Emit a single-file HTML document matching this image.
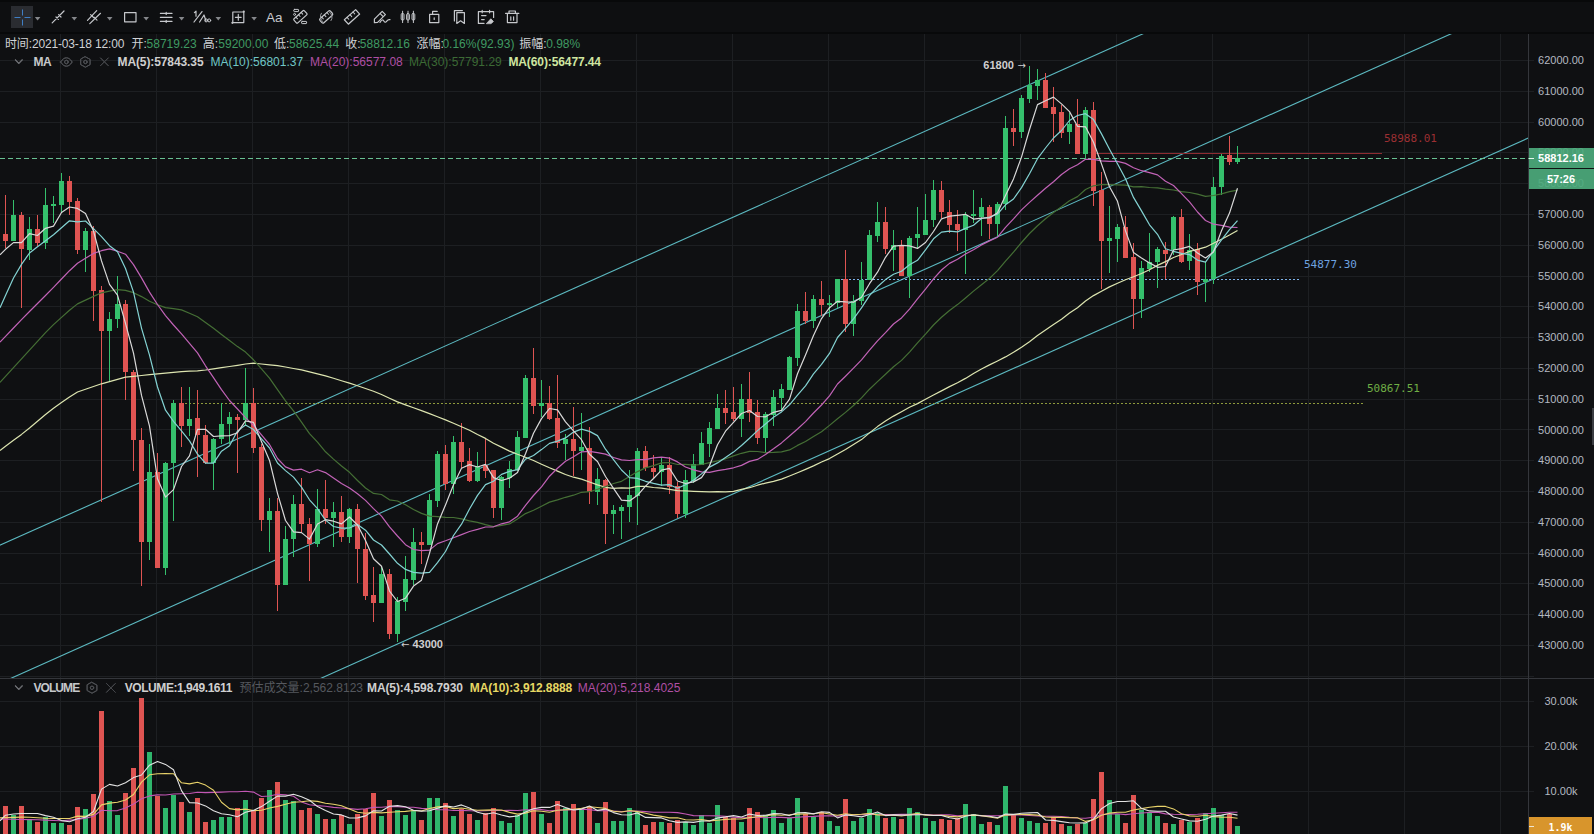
<!DOCTYPE html>
<html lang="zh"><head><meta charset="utf-8"><title>BTC/USDT</title>
<style>
html,body{margin:0;padding:0;background:#0f1012;}
body{width:1594px;height:834px;position:relative;overflow:hidden;font-family:"Liberation Sans","Noto Sans CJK SC",sans-serif;color:#c9ccd1;}
#tb{position:absolute;left:0;top:0;width:1594px;height:32px;background:#0e0f11;border-bottom:2px solid #08090a;}
#tb .topline{position:absolute;left:0;top:0;width:1594px;height:2px;background:#08090a;}
.ax{position:absolute;left:1528px;width:66px;text-align:center;font-size:11px;line-height:14px;color:#b4b9c1;}
.t{position:absolute;white-space:nowrap;font-size:12px;line-height:14px;}
.mono{font-family:"DejaVu Sans Mono","Liberation Mono",monospace;font-size:11px;line-height:13px;position:absolute;white-space:nowrap;}
.arr{font-family:'DejaVu Sans',sans-serif;font-size:10px;color:#cfcfcf;line-height:14px}
.g{color:#3f9a62}
.w{color:#d4d4d4}
</style></head><body>
<svg width="1594" height="834" viewBox="0 0 1594 834" style="position:absolute;left:0;top:0">
<g stroke="#1d1f22" stroke-width="1" shape-rendering="crispEdges">
<line x1="60.5" y1="34" x2="60.5" y2="834"/>
<line x1="156.5" y1="34" x2="156.5" y2="834"/>
<line x1="252.5" y1="34" x2="252.5" y2="834"/>
<line x1="348.5" y1="34" x2="348.5" y2="834"/>
<line x1="444.5" y1="34" x2="444.5" y2="834"/>
<line x1="540.5" y1="34" x2="540.5" y2="834"/>
<line x1="636.5" y1="34" x2="636.5" y2="834"/>
<line x1="732.5" y1="34" x2="732.5" y2="834"/>
<line x1="828.5" y1="34" x2="828.5" y2="834"/>
<line x1="924.5" y1="34" x2="924.5" y2="834"/>
<line x1="1020.5" y1="34" x2="1020.5" y2="834"/>
<line x1="1116.5" y1="34" x2="1116.5" y2="834"/>
<line x1="1212.5" y1="34" x2="1212.5" y2="834"/>
<line x1="1308.5" y1="34" x2="1308.5" y2="834"/>
<line x1="1404.5" y1="34" x2="1404.5" y2="834"/>
<line x1="1500.5" y1="34" x2="1500.5" y2="834"/>
<line x1="0" y1="676.5" x2="1534" y2="676.5"/>
<line x1="0" y1="645.5" x2="1534" y2="645.5"/>
<line x1="0" y1="614.5" x2="1534" y2="614.5"/>
<line x1="0" y1="583.5" x2="1534" y2="583.5"/>
<line x1="0" y1="553.5" x2="1534" y2="553.5"/>
<line x1="0" y1="522.5" x2="1534" y2="522.5"/>
<line x1="0" y1="491.5" x2="1534" y2="491.5"/>
<line x1="0" y1="460.5" x2="1534" y2="460.5"/>
<line x1="0" y1="429.5" x2="1534" y2="429.5"/>
<line x1="0" y1="399.5" x2="1534" y2="399.5"/>
<line x1="0" y1="368.5" x2="1534" y2="368.5"/>
<line x1="0" y1="337.5" x2="1534" y2="337.5"/>
<line x1="0" y1="306.5" x2="1534" y2="306.5"/>
<line x1="0" y1="276.5" x2="1534" y2="276.5"/>
<line x1="0" y1="245.5" x2="1534" y2="245.5"/>
<line x1="0" y1="214.5" x2="1534" y2="214.5"/>
<line x1="0" y1="183.5" x2="1534" y2="183.5"/>
<line x1="0" y1="152.5" x2="1534" y2="152.5"/>
<line x1="0" y1="122.5" x2="1534" y2="122.5"/>
<line x1="0" y1="91.5" x2="1534" y2="91.5"/>
<line x1="0" y1="60.5" x2="1534" y2="60.5"/>
<line x1="0" y1="701.5" x2="1534" y2="701.5"/>
<line x1="0" y1="746.5" x2="1534" y2="746.5"/>
<line x1="0" y1="791.5" x2="1534" y2="791.5"/>
</g>
<g stroke="#34363b" stroke-width="1" shape-rendering="crispEdges">
<line x1="0" y1="678.5" x2="1594" y2="678.5"/>
<line x1="1528.5" y1="34" x2="1528.5" y2="834"/>
</g>
<defs><clipPath id="cm"><rect x="0" y="34" width="1528" height="644"/></clipPath><clipPath id="cv"><rect x="0" y="679" width="1528" height="155"/></clipPath></defs>
<g clip-path="url(#cm)" stroke="#5cb9c0" stroke-width="1.1" fill="none">
<line x1="-10" y1="549.7" x2="1540" y2="-143.9"/>
<line x1="-10" y1="687.7" x2="1540" y2="-6.0"/>
<line x1="-10" y1="826.4" x2="1540" y2="132.8"/>
</g>
<line x1="181" y1="403.5" x2="1365" y2="403.5" stroke="#8e9a3c" stroke-width="1" stroke-dasharray="2 2"/>
<line x1="837" y1="279.5" x2="1301" y2="279.5" stroke="#7fb2e8" stroke-width="1" stroke-dasharray="2 2"/>
<line x1="1091" y1="153.5" x2="1382" y2="153.5" stroke="#8e2c31" stroke-width="1"/>
<line x1="0" y1="158.5" x2="1534" y2="158.5" stroke="#68c092" stroke-width="1" stroke-dasharray="5 3"/>
<g shape-rendering="crispEdges">
<rect x="5" y="195" width="1" height="53" fill="#df5452"/>
<rect x="3" y="234" width="5" height="7" fill="#df5452"/>
<rect x="13" y="200" width="1" height="41" fill="#35c06c"/>
<rect x="11" y="215" width="5" height="26" fill="#35c06c"/>
<rect x="21" y="212" width="1" height="96" fill="#df5452"/>
<rect x="19" y="215" width="5" height="34" fill="#df5452"/>
<rect x="29" y="217" width="1" height="43" fill="#35c06c"/>
<rect x="27" y="229" width="5" height="21" fill="#35c06c"/>
<rect x="37" y="215" width="1" height="31" fill="#df5452"/>
<rect x="35" y="229" width="5" height="14" fill="#df5452"/>
<rect x="45" y="188" width="1" height="61" fill="#35c06c"/>
<rect x="43" y="205" width="5" height="38" fill="#35c06c"/>
<rect x="53" y="196" width="1" height="27" fill="#35c06c"/>
<rect x="51" y="204" width="5" height="2" fill="#35c06c"/>
<rect x="61" y="173" width="1" height="39" fill="#35c06c"/>
<rect x="59" y="181" width="5" height="24" fill="#35c06c"/>
<rect x="69" y="176" width="1" height="39" fill="#df5452"/>
<rect x="67" y="181" width="5" height="21" fill="#df5452"/>
<rect x="77" y="198" width="1" height="56" fill="#df5452"/>
<rect x="75" y="201" width="5" height="49" fill="#df5452"/>
<rect x="85" y="228" width="1" height="44" fill="#35c06c"/>
<rect x="83" y="231" width="5" height="19" fill="#35c06c"/>
<rect x="93" y="226" width="1" height="95" fill="#df5452"/>
<rect x="91" y="231" width="5" height="60" fill="#df5452"/>
<rect x="101" y="286" width="1" height="216" fill="#df5452"/>
<rect x="99" y="290" width="5" height="41" fill="#df5452"/>
<rect x="109" y="312" width="1" height="70" fill="#35c06c"/>
<rect x="107" y="319" width="5" height="12" fill="#35c06c"/>
<rect x="117" y="276" width="1" height="52" fill="#35c06c"/>
<rect x="115" y="304" width="5" height="15" fill="#35c06c"/>
<rect x="125" y="300" width="1" height="100" fill="#df5452"/>
<rect x="123" y="304" width="5" height="68" fill="#df5452"/>
<rect x="133" y="370" width="1" height="101" fill="#df5452"/>
<rect x="131" y="372" width="5" height="68" fill="#df5452"/>
<rect x="141" y="428" width="1" height="158" fill="#df5452"/>
<rect x="139" y="440" width="5" height="102" fill="#df5452"/>
<rect x="149" y="444" width="1" height="116" fill="#35c06c"/>
<rect x="147" y="472" width="5" height="70" fill="#35c06c"/>
<rect x="157" y="453" width="1" height="115" fill="#df5452"/>
<rect x="155" y="472" width="5" height="96" fill="#df5452"/>
<rect x="165" y="462" width="1" height="113" fill="#35c06c"/>
<rect x="163" y="463" width="5" height="105" fill="#35c06c"/>
<rect x="173" y="400" width="1" height="121" fill="#35c06c"/>
<rect x="171" y="403" width="5" height="60" fill="#35c06c"/>
<rect x="181" y="387" width="1" height="60" fill="#df5452"/>
<rect x="179" y="403" width="5" height="23" fill="#df5452"/>
<rect x="189" y="387" width="1" height="49" fill="#35c06c"/>
<rect x="187" y="419" width="5" height="7" fill="#35c06c"/>
<rect x="197" y="390" width="1" height="87" fill="#df5452"/>
<rect x="195" y="418" width="5" height="17" fill="#df5452"/>
<rect x="205" y="425" width="1" height="39" fill="#df5452"/>
<rect x="203" y="435" width="5" height="28" fill="#df5452"/>
<rect x="213" y="438" width="1" height="52" fill="#35c06c"/>
<rect x="211" y="439" width="5" height="24" fill="#35c06c"/>
<rect x="221" y="403" width="1" height="41" fill="#35c06c"/>
<rect x="219" y="424" width="5" height="15" fill="#35c06c"/>
<rect x="229" y="412" width="1" height="32" fill="#35c06c"/>
<rect x="227" y="417" width="5" height="7" fill="#35c06c"/>
<rect x="237" y="414" width="1" height="59" fill="#df5452"/>
<rect x="235" y="417" width="5" height="3" fill="#df5452"/>
<rect x="245" y="368" width="1" height="58" fill="#35c06c"/>
<rect x="243" y="403" width="5" height="17" fill="#35c06c"/>
<rect x="253" y="388" width="1" height="65" fill="#df5452"/>
<rect x="251" y="403" width="5" height="45" fill="#df5452"/>
<rect x="261" y="444" width="1" height="87" fill="#df5452"/>
<rect x="259" y="447" width="5" height="73" fill="#df5452"/>
<rect x="269" y="498" width="1" height="54" fill="#35c06c"/>
<rect x="267" y="511" width="5" height="9" fill="#35c06c"/>
<rect x="277" y="498" width="1" height="113" fill="#df5452"/>
<rect x="275" y="511" width="5" height="74" fill="#df5452"/>
<rect x="285" y="526" width="1" height="59" fill="#35c06c"/>
<rect x="283" y="539" width="5" height="46" fill="#35c06c"/>
<rect x="293" y="495" width="1" height="62" fill="#35c06c"/>
<rect x="291" y="504" width="5" height="35" fill="#35c06c"/>
<rect x="301" y="478" width="1" height="54" fill="#df5452"/>
<rect x="299" y="504" width="5" height="20" fill="#df5452"/>
<rect x="309" y="518" width="1" height="63" fill="#df5452"/>
<rect x="307" y="524" width="5" height="20" fill="#df5452"/>
<rect x="317" y="489" width="1" height="58" fill="#35c06c"/>
<rect x="315" y="509" width="5" height="35" fill="#35c06c"/>
<rect x="325" y="480" width="1" height="44" fill="#df5452"/>
<rect x="323" y="509" width="5" height="9" fill="#df5452"/>
<rect x="333" y="502" width="1" height="45" fill="#35c06c"/>
<rect x="331" y="512" width="5" height="6" fill="#35c06c"/>
<rect x="341" y="496" width="1" height="46" fill="#df5452"/>
<rect x="339" y="512" width="5" height="25" fill="#df5452"/>
<rect x="349" y="508" width="1" height="35" fill="#35c06c"/>
<rect x="347" y="509" width="5" height="28" fill="#35c06c"/>
<rect x="357" y="504" width="1" height="79" fill="#df5452"/>
<rect x="355" y="509" width="5" height="40" fill="#df5452"/>
<rect x="365" y="533" width="1" height="67" fill="#df5452"/>
<rect x="363" y="549" width="5" height="47" fill="#df5452"/>
<rect x="373" y="567" width="1" height="55" fill="#df5452"/>
<rect x="371" y="595" width="5" height="8" fill="#df5452"/>
<rect x="381" y="567" width="1" height="36" fill="#35c06c"/>
<rect x="379" y="574" width="5" height="29" fill="#35c06c"/>
<rect x="389" y="569" width="1" height="70" fill="#df5452"/>
<rect x="387" y="574" width="5" height="60" fill="#df5452"/>
<rect x="397" y="597" width="1" height="45" fill="#35c06c"/>
<rect x="395" y="601" width="5" height="33" fill="#35c06c"/>
<rect x="405" y="556" width="1" height="55" fill="#35c06c"/>
<rect x="403" y="579" width="5" height="23" fill="#35c06c"/>
<rect x="413" y="528" width="1" height="57" fill="#35c06c"/>
<rect x="411" y="542" width="5" height="38" fill="#35c06c"/>
<rect x="421" y="532" width="1" height="32" fill="#df5452"/>
<rect x="419" y="542" width="5" height="3" fill="#df5452"/>
<rect x="429" y="494" width="1" height="51" fill="#35c06c"/>
<rect x="427" y="500" width="5" height="45" fill="#35c06c"/>
<rect x="437" y="451" width="1" height="56" fill="#35c06c"/>
<rect x="435" y="454" width="5" height="47" fill="#35c06c"/>
<rect x="445" y="445" width="1" height="45" fill="#df5452"/>
<rect x="443" y="454" width="5" height="30" fill="#df5452"/>
<rect x="453" y="436" width="1" height="58" fill="#35c06c"/>
<rect x="451" y="442" width="5" height="42" fill="#35c06c"/>
<rect x="461" y="423" width="1" height="45" fill="#df5452"/>
<rect x="459" y="442" width="5" height="20" fill="#df5452"/>
<rect x="469" y="448" width="1" height="34" fill="#df5452"/>
<rect x="467" y="461" width="5" height="20" fill="#df5452"/>
<rect x="477" y="452" width="1" height="30" fill="#35c06c"/>
<rect x="475" y="466" width="5" height="15" fill="#35c06c"/>
<rect x="485" y="439" width="1" height="39" fill="#df5452"/>
<rect x="483" y="465" width="5" height="6" fill="#df5452"/>
<rect x="493" y="470" width="1" height="48" fill="#df5452"/>
<rect x="491" y="470" width="5" height="38" fill="#df5452"/>
<rect x="501" y="476" width="1" height="44" fill="#35c06c"/>
<rect x="499" y="477" width="5" height="31" fill="#35c06c"/>
<rect x="509" y="461" width="1" height="27" fill="#35c06c"/>
<rect x="507" y="469" width="5" height="9" fill="#35c06c"/>
<rect x="517" y="431" width="1" height="40" fill="#35c06c"/>
<rect x="515" y="437" width="5" height="33" fill="#35c06c"/>
<rect x="525" y="375" width="1" height="63" fill="#35c06c"/>
<rect x="523" y="378" width="5" height="60" fill="#35c06c"/>
<rect x="533" y="348" width="1" height="66" fill="#df5452"/>
<rect x="531" y="378" width="5" height="28" fill="#df5452"/>
<rect x="541" y="380" width="1" height="37" fill="#35c06c"/>
<rect x="539" y="403" width="5" height="3" fill="#35c06c"/>
<rect x="549" y="386" width="1" height="34" fill="#df5452"/>
<rect x="547" y="403" width="5" height="16" fill="#df5452"/>
<rect x="557" y="375" width="1" height="73" fill="#df5452"/>
<rect x="555" y="418" width="5" height="25" fill="#df5452"/>
<rect x="565" y="434" width="1" height="26" fill="#35c06c"/>
<rect x="563" y="439" width="5" height="5" fill="#35c06c"/>
<rect x="573" y="407" width="1" height="69" fill="#df5452"/>
<rect x="571" y="439" width="5" height="12" fill="#df5452"/>
<rect x="581" y="413" width="1" height="57" fill="#35c06c"/>
<rect x="579" y="447" width="5" height="4" fill="#35c06c"/>
<rect x="589" y="427" width="1" height="77" fill="#df5452"/>
<rect x="587" y="448" width="5" height="44" fill="#df5452"/>
<rect x="597" y="468" width="1" height="37" fill="#35c06c"/>
<rect x="595" y="479" width="5" height="13" fill="#35c06c"/>
<rect x="605" y="479" width="1" height="65" fill="#df5452"/>
<rect x="603" y="480" width="5" height="34" fill="#df5452"/>
<rect x="613" y="505" width="1" height="29" fill="#35c06c"/>
<rect x="611" y="510" width="5" height="4" fill="#35c06c"/>
<rect x="621" y="505" width="1" height="34" fill="#35c06c"/>
<rect x="619" y="507" width="5" height="4" fill="#35c06c"/>
<rect x="629" y="470" width="1" height="52" fill="#35c06c"/>
<rect x="627" y="495" width="5" height="12" fill="#35c06c"/>
<rect x="637" y="448" width="1" height="77" fill="#35c06c"/>
<rect x="635" y="451" width="5" height="45" fill="#35c06c"/>
<rect x="645" y="446" width="1" height="25" fill="#df5452"/>
<rect x="643" y="451" width="5" height="17" fill="#df5452"/>
<rect x="653" y="455" width="1" height="23" fill="#df5452"/>
<rect x="651" y="468" width="5" height="4" fill="#df5452"/>
<rect x="661" y="457" width="1" height="29" fill="#35c06c"/>
<rect x="659" y="465" width="5" height="7" fill="#35c06c"/>
<rect x="669" y="457" width="1" height="37" fill="#df5452"/>
<rect x="667" y="465" width="5" height="22" fill="#df5452"/>
<rect x="677" y="482" width="1" height="36" fill="#df5452"/>
<rect x="675" y="486" width="5" height="28" fill="#df5452"/>
<rect x="685" y="470" width="1" height="48" fill="#35c06c"/>
<rect x="683" y="480" width="5" height="34" fill="#35c06c"/>
<rect x="693" y="454" width="1" height="29" fill="#35c06c"/>
<rect x="691" y="464" width="5" height="17" fill="#35c06c"/>
<rect x="701" y="432" width="1" height="33" fill="#35c06c"/>
<rect x="699" y="443" width="5" height="22" fill="#35c06c"/>
<rect x="709" y="422" width="1" height="35" fill="#35c06c"/>
<rect x="707" y="428" width="5" height="16" fill="#35c06c"/>
<rect x="717" y="394" width="1" height="35" fill="#35c06c"/>
<rect x="715" y="408" width="5" height="21" fill="#35c06c"/>
<rect x="725" y="390" width="1" height="34" fill="#df5452"/>
<rect x="723" y="408" width="5" height="5" fill="#df5452"/>
<rect x="733" y="387" width="1" height="34" fill="#df5452"/>
<rect x="731" y="412" width="5" height="7" fill="#df5452"/>
<rect x="741" y="384" width="1" height="53" fill="#35c06c"/>
<rect x="739" y="399" width="5" height="20" fill="#35c06c"/>
<rect x="749" y="372" width="1" height="50" fill="#df5452"/>
<rect x="747" y="399" width="5" height="14" fill="#df5452"/>
<rect x="757" y="400" width="1" height="44" fill="#df5452"/>
<rect x="755" y="412" width="5" height="26" fill="#df5452"/>
<rect x="765" y="412" width="1" height="40" fill="#35c06c"/>
<rect x="763" y="414" width="5" height="24" fill="#35c06c"/>
<rect x="773" y="390" width="1" height="36" fill="#35c06c"/>
<rect x="771" y="397" width="5" height="18" fill="#35c06c"/>
<rect x="781" y="384" width="1" height="26" fill="#35c06c"/>
<rect x="779" y="389" width="5" height="9" fill="#35c06c"/>
<rect x="789" y="356" width="1" height="34" fill="#35c06c"/>
<rect x="787" y="357" width="5" height="33" fill="#35c06c"/>
<rect x="797" y="304" width="1" height="62" fill="#35c06c"/>
<rect x="795" y="311" width="5" height="47" fill="#35c06c"/>
<rect x="805" y="292" width="1" height="32" fill="#df5452"/>
<rect x="803" y="311" width="5" height="10" fill="#df5452"/>
<rect x="813" y="295" width="1" height="33" fill="#35c06c"/>
<rect x="811" y="299" width="5" height="22" fill="#35c06c"/>
<rect x="821" y="281" width="1" height="35" fill="#df5452"/>
<rect x="819" y="299" width="5" height="6" fill="#df5452"/>
<rect x="829" y="295" width="1" height="22" fill="#35c06c"/>
<rect x="827" y="303" width="5" height="2" fill="#35c06c"/>
<rect x="837" y="279" width="1" height="29" fill="#35c06c"/>
<rect x="835" y="279" width="5" height="24" fill="#35c06c"/>
<rect x="845" y="250" width="1" height="82" fill="#df5452"/>
<rect x="843" y="279" width="5" height="45" fill="#df5452"/>
<rect x="853" y="295" width="1" height="41" fill="#35c06c"/>
<rect x="851" y="301" width="5" height="23" fill="#35c06c"/>
<rect x="861" y="262" width="1" height="43" fill="#35c06c"/>
<rect x="859" y="280" width="5" height="21" fill="#35c06c"/>
<rect x="869" y="230" width="1" height="50" fill="#35c06c"/>
<rect x="867" y="235" width="5" height="45" fill="#35c06c"/>
<rect x="877" y="202" width="1" height="40" fill="#35c06c"/>
<rect x="875" y="222" width="5" height="14" fill="#35c06c"/>
<rect x="885" y="207" width="1" height="47" fill="#df5452"/>
<rect x="883" y="222" width="5" height="27" fill="#df5452"/>
<rect x="893" y="230" width="1" height="41" fill="#35c06c"/>
<rect x="891" y="245" width="5" height="5" fill="#35c06c"/>
<rect x="901" y="240" width="1" height="36" fill="#df5452"/>
<rect x="899" y="245" width="5" height="31" fill="#df5452"/>
<rect x="909" y="236" width="1" height="62" fill="#35c06c"/>
<rect x="907" y="238" width="5" height="38" fill="#35c06c"/>
<rect x="917" y="207" width="1" height="41" fill="#35c06c"/>
<rect x="915" y="234" width="5" height="4" fill="#35c06c"/>
<rect x="925" y="194" width="1" height="41" fill="#35c06c"/>
<rect x="923" y="220" width="5" height="15" fill="#35c06c"/>
<rect x="933" y="180" width="1" height="47" fill="#35c06c"/>
<rect x="931" y="190" width="5" height="30" fill="#35c06c"/>
<rect x="941" y="181" width="1" height="37" fill="#df5452"/>
<rect x="939" y="190" width="5" height="22" fill="#df5452"/>
<rect x="949" y="200" width="1" height="33" fill="#df5452"/>
<rect x="947" y="212" width="5" height="13" fill="#df5452"/>
<rect x="957" y="210" width="1" height="41" fill="#df5452"/>
<rect x="955" y="224" width="5" height="6" fill="#df5452"/>
<rect x="965" y="212" width="1" height="62" fill="#35c06c"/>
<rect x="963" y="215" width="5" height="15" fill="#35c06c"/>
<rect x="973" y="190" width="1" height="33" fill="#35c06c"/>
<rect x="971" y="214" width="5" height="2" fill="#35c06c"/>
<rect x="981" y="198" width="1" height="38" fill="#35c06c"/>
<rect x="979" y="207" width="5" height="10" fill="#35c06c"/>
<rect x="989" y="205" width="1" height="34" fill="#df5452"/>
<rect x="987" y="207" width="5" height="17" fill="#df5452"/>
<rect x="997" y="202" width="1" height="34" fill="#35c06c"/>
<rect x="995" y="204" width="5" height="20" fill="#35c06c"/>
<rect x="1005" y="116" width="1" height="94" fill="#35c06c"/>
<rect x="1003" y="128" width="5" height="76" fill="#35c06c"/>
<rect x="1013" y="109" width="1" height="37" fill="#df5452"/>
<rect x="1011" y="128" width="5" height="4" fill="#df5452"/>
<rect x="1021" y="95" width="1" height="43" fill="#35c06c"/>
<rect x="1019" y="98" width="5" height="34" fill="#35c06c"/>
<rect x="1029" y="66" width="1" height="37" fill="#35c06c"/>
<rect x="1027" y="85" width="5" height="14" fill="#35c06c"/>
<rect x="1037" y="69" width="1" height="31" fill="#35c06c"/>
<rect x="1035" y="80" width="5" height="6" fill="#35c06c"/>
<rect x="1045" y="73" width="1" height="35" fill="#df5452"/>
<rect x="1043" y="80" width="5" height="28" fill="#df5452"/>
<rect x="1053" y="87" width="1" height="55" fill="#df5452"/>
<rect x="1051" y="107" width="5" height="7" fill="#df5452"/>
<rect x="1061" y="105" width="1" height="33" fill="#df5452"/>
<rect x="1059" y="112" width="5" height="21" fill="#df5452"/>
<rect x="1069" y="113" width="1" height="31" fill="#35c06c"/>
<rect x="1067" y="124" width="5" height="8" fill="#35c06c"/>
<rect x="1077" y="99" width="1" height="55" fill="#df5452"/>
<rect x="1075" y="124" width="5" height="30" fill="#df5452"/>
<rect x="1085" y="107" width="1" height="52" fill="#35c06c"/>
<rect x="1083" y="110" width="5" height="44" fill="#35c06c"/>
<rect x="1093" y="102" width="1" height="104" fill="#df5452"/>
<rect x="1091" y="110" width="5" height="81" fill="#df5452"/>
<rect x="1101" y="172" width="1" height="117" fill="#df5452"/>
<rect x="1099" y="190" width="5" height="51" fill="#df5452"/>
<rect x="1109" y="206" width="1" height="67" fill="#35c06c"/>
<rect x="1107" y="238" width="5" height="3" fill="#35c06c"/>
<rect x="1117" y="224" width="1" height="38" fill="#35c06c"/>
<rect x="1115" y="227" width="5" height="12" fill="#35c06c"/>
<rect x="1125" y="216" width="1" height="42" fill="#df5452"/>
<rect x="1123" y="227" width="5" height="31" fill="#df5452"/>
<rect x="1133" y="243" width="1" height="86" fill="#df5452"/>
<rect x="1131" y="257" width="5" height="42" fill="#df5452"/>
<rect x="1141" y="261" width="1" height="57" fill="#35c06c"/>
<rect x="1139" y="268" width="5" height="31" fill="#35c06c"/>
<rect x="1149" y="233" width="1" height="39" fill="#35c06c"/>
<rect x="1147" y="262" width="5" height="7" fill="#35c06c"/>
<rect x="1157" y="247" width="1" height="41" fill="#35c06c"/>
<rect x="1155" y="249" width="5" height="13" fill="#35c06c"/>
<rect x="1165" y="242" width="1" height="37" fill="#df5452"/>
<rect x="1163" y="250" width="5" height="4" fill="#df5452"/>
<rect x="1173" y="216" width="1" height="39" fill="#35c06c"/>
<rect x="1171" y="217" width="5" height="33" fill="#35c06c"/>
<rect x="1181" y="209" width="1" height="54" fill="#df5452"/>
<rect x="1179" y="217" width="5" height="45" fill="#df5452"/>
<rect x="1189" y="234" width="1" height="36" fill="#35c06c"/>
<rect x="1187" y="250" width="5" height="11" fill="#35c06c"/>
<rect x="1197" y="243" width="1" height="52" fill="#df5452"/>
<rect x="1195" y="249" width="5" height="33" fill="#df5452"/>
<rect x="1205" y="262" width="1" height="40" fill="#35c06c"/>
<rect x="1203" y="279" width="5" height="3" fill="#35c06c"/>
<rect x="1213" y="177" width="1" height="107" fill="#35c06c"/>
<rect x="1211" y="187" width="5" height="92" fill="#35c06c"/>
<rect x="1221" y="154" width="1" height="41" fill="#35c06c"/>
<rect x="1219" y="156" width="5" height="31" fill="#35c06c"/>
<rect x="1229" y="136" width="1" height="29" fill="#df5452"/>
<rect x="1227" y="155" width="5" height="7" fill="#df5452"/>
<rect x="1237" y="146" width="1" height="18" fill="#35c06c"/>
<rect x="1235" y="158" width="5" height="4" fill="#35c06c"/>
</g>
<g clip-path="url(#cm)" fill="none" stroke-width="1.2" stroke-linejoin="round">
<polyline stroke="#dde5b0" points="0.0,450.4 5.5,446.3 13.5,440.3 21.5,434.4 29.5,428.0 37.5,421.3 45.5,414.5 53.5,408.2 61.5,402.6 69.5,396.9 77.5,392.0 85.5,389.2 93.5,386.5 101.5,383.8 109.5,381.6 117.5,379.4 125.5,377.1 133.5,376.3 141.5,375.5 149.5,374.7 157.5,373.9 165.5,373.1 173.5,372.3 181.5,371.7 189.5,371.2 197.5,370.8 205.5,370.0 213.5,368.8 221.5,367.7 229.5,366.5 237.5,365.3 245.5,364.0 253.5,363.2 261.5,364.0 269.5,364.8 277.5,365.6 285.5,367.0 293.5,368.5 301.5,369.9 309.5,371.9 317.5,373.9 325.5,375.9 333.5,378.3 341.5,380.7 349.5,383.1 357.5,385.7 365.5,388.5 373.5,391.3 381.5,394.5 389.5,398.2 397.5,401.9 405.5,404.9 413.5,407.8 421.5,410.6 429.5,413.6 437.5,416.7 445.5,419.9 453.5,423.2 461.5,426.8 469.5,430.3 477.5,434.5 485.5,438.4 493.5,443.3 501.5,447.1 509.5,451.1 517.5,454.3 525.5,457.2 533.5,460.5 541.5,464.2 549.5,467.8 557.5,471.1 565.5,474.5 573.5,477.2 581.5,479.1 589.5,482.0 597.5,484.9 605.5,487.3 613.5,488.4 621.5,487.9 629.5,488.2 637.5,486.3 645.5,486.4 653.5,487.5 661.5,488.2 669.5,489.3 677.5,490.6 685.5,490.9 693.5,491.3 701.5,491.6 709.5,491.8 717.5,491.6 725.5,491.8 733.5,491.3 741.5,489.3 749.5,487.7 757.5,485.2 765.5,483.1 773.5,481.3 781.5,479.1 789.5,476.0 797.5,472.7 805.5,469.4 813.5,465.9 821.5,462.0 829.5,458.6 837.5,454.0 845.5,449.5 853.5,444.5 861.5,439.6 869.5,432.9 877.5,426.6 885.5,421.1 893.5,416.1 901.5,411.7 909.5,407.3 917.5,403.6 925.5,399.2 933.5,395.0 941.5,390.9 949.5,386.6 957.5,382.7 965.5,378.4 973.5,373.5 981.5,369.0 989.5,364.9 997.5,361.0 1005.5,356.9 1013.5,352.3 1021.5,347.2 1029.5,341.7 1037.5,335.6 1045.5,330.1 1053.5,324.5 1061.5,319.2 1069.5,313.1 1077.5,307.7 1085.5,301.0 1093.5,295.6 1101.5,291.2 1109.5,286.9 1117.5,283.2 1125.5,279.7 1133.5,276.8 1141.5,273.5 1149.5,269.8 1157.5,265.4 1165.5,261.6 1173.5,257.5 1181.5,254.5 1189.5,251.5 1197.5,249.4 1205.5,247.2 1213.5,243.3 1221.5,239.2 1229.5,235.0 1237.5,230.4"/>
<polyline stroke="#456f35" points="0.0,382.4 5.5,376.4 13.5,367.6 21.5,358.8 29.5,350.1 37.5,341.4 45.5,332.7 53.5,324.6 61.5,317.4 69.5,310.2 77.5,303.9 85.5,300.1 93.5,296.4 101.5,292.8 109.5,291.2 117.5,289.7 125.5,290.4 133.5,292.7 141.5,296.6 149.5,301.3 157.5,304.8 165.5,307.6 173.5,308.7 181.5,309.9 189.5,313.2 197.5,316.8 205.5,322.6 213.5,328.3 221.5,334.4 229.5,340.4 237.5,346.6 245.5,352.1 253.5,359.8 261.5,368.8 269.5,378.2 277.5,389.6 285.5,400.8 293.5,410.8 301.5,422.2 309.5,433.6 317.5,442.2 325.5,451.8 333.5,459.1 341.5,466.0 349.5,472.3 357.5,480.5 365.5,488.0 373.5,493.4 381.5,494.5 389.5,499.8 397.5,501.0 405.5,504.8 413.5,509.5 421.5,513.4 429.5,516.1 437.5,516.7 445.5,517.4 453.5,517.5 461.5,518.8 469.5,520.9 477.5,522.4 485.5,524.7 493.5,526.7 501.5,525.3 509.5,523.9 517.5,519.0 525.5,513.6 533.5,510.3 541.5,506.3 549.5,502.1 557.5,499.9 565.5,497.3 573.5,495.2 581.5,492.3 589.5,491.7 597.5,489.3 605.5,486.6 613.5,483.5 621.5,481.3 629.5,476.6 637.5,471.6 645.5,467.9 653.5,465.6 661.5,462.9 669.5,462.5 677.5,464.5 685.5,464.4 693.5,465.1 701.5,464.5 709.5,462.7 717.5,460.8 725.5,458.8 733.5,455.9 741.5,453.3 749.5,451.4 757.5,451.5 765.5,452.7 773.5,452.4 781.5,451.9 789.5,449.9 797.5,445.4 805.5,441.5 813.5,436.5 821.5,431.7 829.5,425.4 837.5,418.7 845.5,412.4 853.5,405.5 861.5,397.9 869.5,389.2 877.5,381.6 885.5,374.3 893.5,366.7 901.5,360.4 909.5,352.1 917.5,342.8 925.5,334.1 933.5,325.0 941.5,317.3 949.5,310.5 957.5,304.6 965.5,298.0 973.5,291.1 981.5,284.7 989.5,278.4 997.5,270.6 1005.5,261.1 1013.5,252.2 1021.5,242.5 1029.5,233.5 1037.5,225.8 1045.5,218.7 1053.5,212.5 1061.5,206.8 1069.5,200.8 1077.5,196.6 1085.5,189.5 1093.5,185.8 1101.5,184.5 1109.5,184.6 1117.5,184.8 1125.5,185.1 1133.5,186.9 1141.5,186.7 1149.5,187.5 1157.5,187.9 1165.5,189.1 1173.5,190.0 1181.5,191.6 1189.5,192.5 1197.5,194.2 1205.5,196.4 1213.5,195.5 1221.5,193.8 1229.5,191.7 1237.5,190.1"/>
<polyline stroke="#c263b7" points="0.0,342.2 5.5,336.4 13.5,328.0 21.5,319.7 29.5,311.5 37.5,303.5 45.5,295.5 53.5,287.4 61.5,279.0 69.5,270.7 77.5,263.3 85.5,258.3 93.5,253.4 101.5,250.7 109.5,248.9 117.5,251.2 125.5,254.2 133.5,264.6 141.5,277.9 149.5,292.1 157.5,304.5 165.5,315.6 173.5,325.0 181.5,333.8 189.5,343.3 197.5,352.9 205.5,365.8 213.5,377.6 221.5,389.7 229.5,400.5 237.5,409.0 245.5,417.6 253.5,425.4 261.5,434.9 269.5,444.5 277.5,458.5 285.5,466.9 293.5,470.1 301.5,469.2 309.5,472.7 317.5,469.8 325.5,472.6 333.5,478.0 341.5,483.5 349.5,488.0 357.5,493.7 365.5,500.4 373.5,508.6 381.5,516.1 389.5,526.9 397.5,536.0 405.5,544.7 413.5,549.5 421.5,550.7 429.5,550.1 437.5,543.6 445.5,540.8 453.5,537.7 461.5,534.6 469.5,531.5 477.5,529.4 485.5,527.0 493.5,526.8 501.5,523.8 509.5,521.8 517.5,516.2 525.5,505.3 533.5,495.5 541.5,486.9 549.5,476.2 557.5,468.3 565.5,461.2 573.5,456.7 581.5,451.8 589.5,451.4 597.5,452.6 605.5,454.1 613.5,457.5 621.5,459.8 629.5,460.5 637.5,459.7 645.5,459.6 653.5,457.8 661.5,457.2 669.5,458.1 677.5,461.9 685.5,467.0 693.5,469.9 701.5,471.9 709.5,472.4 717.5,470.6 725.5,469.3 733.5,467.8 741.5,465.4 749.5,461.4 757.5,459.4 765.5,454.4 773.5,448.8 781.5,442.9 789.5,436.0 797.5,429.0 805.5,421.6 813.5,413.0 821.5,405.0 829.5,395.8 837.5,384.0 845.5,376.2 853.5,368.1 861.5,359.9 869.5,350.2 877.5,340.9 885.5,332.7 893.5,324.0 901.5,317.9 909.5,309.1 917.5,298.9 925.5,289.2 933.5,278.8 941.5,270.0 949.5,263.4 957.5,259.3 965.5,254.0 973.5,249.7 981.5,244.9 989.5,240.9 997.5,237.2 1005.5,227.4 1013.5,218.9 1021.5,209.9 1029.5,202.4 1037.5,195.3 1045.5,188.2 1053.5,181.7 1061.5,174.5 1069.5,168.8 1077.5,164.8 1085.5,159.3 1093.5,159.3 1101.5,160.8 1109.5,161.4 1117.5,161.3 1125.5,163.4 1133.5,167.7 1141.5,170.7 1149.5,172.7 1157.5,174.9 1165.5,181.2 1173.5,185.5 1181.5,193.6 1189.5,201.9 1197.5,212.0 1205.5,220.5 1213.5,224.2 1221.5,225.4 1229.5,227.2 1237.5,227.5"/>
<polyline stroke="#84d3d3" points="0.0,307.7 5.5,295.6 13.5,278.0 21.5,264.4 29.5,253.0 37.5,246.7 45.5,240.7 53.5,234.8 61.5,227.7 69.5,220.8 77.5,221.9 85.5,221.0 93.5,228.6 101.5,236.7 109.5,245.7 117.5,251.8 125.5,268.5 133.5,292.1 141.5,328.1 149.5,355.2 157.5,387.0 165.5,410.2 173.5,421.4 181.5,430.9 189.5,440.9 197.5,454.1 205.5,463.2 213.5,463.1 221.5,451.2 229.5,445.7 237.5,431.0 245.5,425.0 253.5,429.5 261.5,438.8 269.5,448.0 277.5,463.0 285.5,470.6 293.5,477.1 301.5,487.1 309.5,499.8 317.5,508.6 325.5,520.1 333.5,526.5 341.5,528.2 349.5,528.0 357.5,524.5 365.5,530.2 373.5,540.0 381.5,545.0 389.5,554.0 397.5,563.3 405.5,569.4 413.5,572.4 421.5,573.2 429.5,572.3 437.5,562.7 445.5,551.5 453.5,535.5 461.5,524.2 469.5,509.0 477.5,495.4 485.5,484.6 493.5,481.2 501.5,474.4 509.5,471.4 517.5,469.7 525.5,459.1 533.5,455.5 541.5,449.6 549.5,443.4 557.5,441.1 565.5,437.9 573.5,432.1 581.5,429.1 589.5,431.4 597.5,435.6 605.5,449.2 613.5,459.6 621.5,470.0 629.5,477.6 637.5,478.4 645.5,481.3 653.5,483.4 661.5,485.2 669.5,484.7 677.5,488.2 685.5,484.8 693.5,480.2 701.5,473.9 709.5,467.1 717.5,462.9 725.5,457.4 733.5,452.1 741.5,445.5 749.5,438.2 757.5,430.6 765.5,424.0 773.5,417.3 781.5,411.9 789.5,404.8 797.5,395.1 805.5,385.9 813.5,373.9 821.5,364.4 829.5,353.4 837.5,337.5 845.5,328.4 853.5,318.8 861.5,307.9 869.5,295.7 877.5,286.8 885.5,279.6 893.5,274.2 901.5,271.3 909.5,264.8 917.5,260.3 925.5,249.9 933.5,238.8 941.5,232.1 949.5,231.1 957.5,231.9 965.5,228.4 973.5,225.3 981.5,218.5 989.5,217.0 997.5,214.1 1005.5,204.8 1013.5,199.0 1021.5,187.6 1029.5,173.7 1037.5,158.7 1045.5,148.0 1053.5,138.0 1061.5,130.5 1069.5,120.5 1077.5,115.5 1085.5,113.7 1093.5,119.6 1101.5,133.9 1109.5,149.2 1117.5,163.8 1125.5,178.8 1133.5,197.4 1141.5,210.9 1149.5,224.8 1157.5,234.3 1165.5,248.7 1173.5,251.3 1181.5,253.4 1189.5,254.6 1197.5,260.1 1205.5,262.2 1213.5,251.0 1221.5,239.8 1229.5,229.7 1237.5,220.7"/>
<polyline stroke="#d9d9d9" points="0.0,254.8 5.5,249.3 13.5,242.6 21.5,242.6 29.5,233.7 37.5,235.5 45.5,228.3 53.5,226.1 61.5,212.5 69.5,207.0 77.5,208.4 85.5,213.6 93.5,231.0 101.5,260.9 109.5,284.4 117.5,295.2 125.5,323.3 133.5,353.2 141.5,395.4 149.5,426.1 157.5,478.8 165.5,497.1 173.5,489.6 181.5,466.5 189.5,455.8 197.5,429.3 205.5,429.3 213.5,436.5 221.5,435.9 229.5,435.6 237.5,432.7 245.5,420.8 253.5,422.4 261.5,441.7 269.5,460.4 277.5,493.3 285.5,520.5 293.5,531.8 301.5,532.6 309.5,539.1 317.5,524.0 325.5,519.7 333.5,521.2 341.5,523.9 349.5,517.0 357.5,525.0 365.5,540.6 373.5,558.7 381.5,566.2 389.5,591.1 397.5,601.5 405.5,598.2 413.5,586.1 421.5,580.2 429.5,553.4 437.5,523.9 445.5,504.9 453.5,484.8 461.5,468.3 469.5,464.6 477.5,467.0 485.5,464.4 493.5,477.6 501.5,480.5 509.5,478.2 517.5,472.4 525.5,453.8 533.5,433.3 541.5,418.6 549.5,408.5 557.5,409.8 565.5,421.9 573.5,430.9 581.5,439.7 589.5,454.3 597.5,461.5 605.5,476.5 613.5,488.3 621.5,500.2 629.5,500.9 637.5,495.3 645.5,486.1 653.5,478.5 661.5,470.1 669.5,468.4 677.5,481.0 685.5,483.5 693.5,481.9 701.5,477.6 709.5,465.8 717.5,444.7 725.5,431.2 733.5,422.3 741.5,413.5 749.5,410.5 757.5,416.5 765.5,416.8 773.5,412.3 781.5,410.3 789.5,399.1 797.5,373.7 805.5,355.0 813.5,335.4 821.5,318.6 829.5,307.7 837.5,301.3 845.5,301.9 853.5,302.2 861.5,297.2 869.5,283.7 877.5,272.2 885.5,257.3 893.5,246.1 901.5,245.3 909.5,245.9 917.5,248.4 925.5,242.5 933.5,231.5 941.5,218.9 949.5,216.2 957.5,215.3 965.5,214.3 973.5,219.1 981.5,218.1 989.5,217.9 997.5,212.8 1005.5,195.4 1013.5,178.9 1021.5,157.1 1029.5,129.5 1037.5,104.6 1045.5,100.7 1053.5,97.1 1061.5,103.9 1069.5,111.6 1077.5,126.3 1085.5,126.8 1093.5,142.2 1101.5,163.9 1109.5,186.7 1117.5,201.3 1125.5,230.9 1133.5,252.6 1141.5,258.0 1149.5,262.9 1157.5,267.3 1165.5,266.5 1173.5,250.0 1181.5,248.7 1189.5,246.4 1197.5,253.0 1205.5,257.9 1213.5,252.0 1221.5,230.8 1229.5,213.1 1237.5,188.3"/>
</g>
<g shape-rendering="crispEdges">
<rect x="3" y="806" width="5" height="28" fill="#df5452"/>
<rect x="11" y="815" width="5" height="19" fill="#2fb66c"/>
<rect x="19" y="806" width="5" height="28" fill="#df5452"/>
<rect x="27" y="819" width="5" height="15" fill="#2fb66c"/>
<rect x="35" y="822" width="5" height="12" fill="#df5452"/>
<rect x="43" y="817" width="5" height="17" fill="#2fb66c"/>
<rect x="51" y="823" width="5" height="11" fill="#2fb66c"/>
<rect x="59" y="823" width="5" height="11" fill="#2fb66c"/>
<rect x="67" y="825" width="5" height="9" fill="#df5452"/>
<rect x="75" y="807" width="5" height="27" fill="#df5452"/>
<rect x="83" y="809" width="5" height="25" fill="#2fb66c"/>
<rect x="91" y="794" width="5" height="40" fill="#df5452"/>
<rect x="99" y="711" width="5" height="123" fill="#df5452"/>
<rect x="107" y="801" width="5" height="33" fill="#2fb66c"/>
<rect x="115" y="815" width="5" height="19" fill="#2fb66c"/>
<rect x="123" y="793" width="5" height="41" fill="#df5452"/>
<rect x="131" y="768" width="5" height="66" fill="#df5452"/>
<rect x="139" y="698" width="5" height="136" fill="#df5452"/>
<rect x="147" y="752" width="5" height="82" fill="#2fb66c"/>
<rect x="155" y="796" width="5" height="38" fill="#df5452"/>
<rect x="163" y="808" width="5" height="26" fill="#2fb66c"/>
<rect x="171" y="795" width="5" height="39" fill="#2fb66c"/>
<rect x="179" y="802" width="5" height="32" fill="#df5452"/>
<rect x="187" y="812" width="5" height="22" fill="#2fb66c"/>
<rect x="195" y="798" width="5" height="36" fill="#df5452"/>
<rect x="203" y="822" width="5" height="12" fill="#df5452"/>
<rect x="211" y="820" width="5" height="14" fill="#2fb66c"/>
<rect x="219" y="817" width="5" height="17" fill="#2fb66c"/>
<rect x="227" y="817" width="5" height="17" fill="#2fb66c"/>
<rect x="235" y="808" width="5" height="26" fill="#df5452"/>
<rect x="243" y="800" width="5" height="34" fill="#2fb66c"/>
<rect x="251" y="810" width="5" height="24" fill="#df5452"/>
<rect x="259" y="798" width="5" height="36" fill="#df5452"/>
<rect x="267" y="790" width="5" height="44" fill="#2fb66c"/>
<rect x="275" y="782" width="5" height="52" fill="#df5452"/>
<rect x="283" y="800" width="5" height="34" fill="#2fb66c"/>
<rect x="291" y="801" width="5" height="33" fill="#2fb66c"/>
<rect x="299" y="810" width="5" height="24" fill="#df5452"/>
<rect x="307" y="808" width="5" height="26" fill="#df5452"/>
<rect x="315" y="814" width="5" height="20" fill="#2fb66c"/>
<rect x="323" y="819" width="5" height="15" fill="#df5452"/>
<rect x="331" y="819" width="5" height="15" fill="#2fb66c"/>
<rect x="339" y="815" width="5" height="19" fill="#df5452"/>
<rect x="347" y="824" width="5" height="10" fill="#2fb66c"/>
<rect x="355" y="814" width="5" height="20" fill="#df5452"/>
<rect x="363" y="809" width="5" height="25" fill="#df5452"/>
<rect x="371" y="793" width="5" height="41" fill="#df5452"/>
<rect x="379" y="816" width="5" height="18" fill="#2fb66c"/>
<rect x="387" y="800" width="5" height="34" fill="#df5452"/>
<rect x="395" y="810" width="5" height="24" fill="#2fb66c"/>
<rect x="403" y="815" width="5" height="19" fill="#2fb66c"/>
<rect x="411" y="810" width="5" height="24" fill="#2fb66c"/>
<rect x="419" y="820" width="5" height="14" fill="#df5452"/>
<rect x="427" y="798" width="5" height="36" fill="#2fb66c"/>
<rect x="435" y="798" width="5" height="36" fill="#2fb66c"/>
<rect x="443" y="803" width="5" height="31" fill="#df5452"/>
<rect x="451" y="816" width="5" height="18" fill="#2fb66c"/>
<rect x="459" y="809" width="5" height="25" fill="#df5452"/>
<rect x="467" y="814" width="5" height="20" fill="#df5452"/>
<rect x="475" y="820" width="5" height="14" fill="#2fb66c"/>
<rect x="483" y="813" width="5" height="21" fill="#df5452"/>
<rect x="491" y="808" width="5" height="26" fill="#df5452"/>
<rect x="499" y="821" width="5" height="13" fill="#2fb66c"/>
<rect x="507" y="823" width="5" height="11" fill="#2fb66c"/>
<rect x="515" y="815" width="5" height="19" fill="#2fb66c"/>
<rect x="523" y="793" width="5" height="41" fill="#2fb66c"/>
<rect x="531" y="792" width="5" height="42" fill="#df5452"/>
<rect x="539" y="814" width="5" height="20" fill="#2fb66c"/>
<rect x="547" y="823" width="5" height="11" fill="#df5452"/>
<rect x="555" y="801" width="5" height="33" fill="#df5452"/>
<rect x="563" y="808" width="5" height="26" fill="#2fb66c"/>
<rect x="571" y="804" width="5" height="30" fill="#df5452"/>
<rect x="579" y="810" width="5" height="24" fill="#2fb66c"/>
<rect x="587" y="807" width="5" height="27" fill="#df5452"/>
<rect x="595" y="823" width="5" height="11" fill="#2fb66c"/>
<rect x="603" y="802" width="5" height="32" fill="#df5452"/>
<rect x="611" y="821" width="5" height="13" fill="#2fb66c"/>
<rect x="619" y="821" width="5" height="13" fill="#2fb66c"/>
<rect x="627" y="808" width="5" height="26" fill="#2fb66c"/>
<rect x="635" y="812" width="5" height="22" fill="#2fb66c"/>
<rect x="643" y="825" width="5" height="9" fill="#df5452"/>
<rect x="651" y="822" width="5" height="12" fill="#df5452"/>
<rect x="659" y="822" width="5" height="12" fill="#2fb66c"/>
<rect x="667" y="823" width="5" height="11" fill="#df5452"/>
<rect x="675" y="820" width="5" height="14" fill="#df5452"/>
<rect x="683" y="822" width="5" height="12" fill="#2fb66c"/>
<rect x="691" y="825" width="5" height="9" fill="#2fb66c"/>
<rect x="699" y="815" width="5" height="19" fill="#2fb66c"/>
<rect x="707" y="823" width="5" height="11" fill="#2fb66c"/>
<rect x="715" y="805" width="5" height="29" fill="#2fb66c"/>
<rect x="723" y="817" width="5" height="17" fill="#df5452"/>
<rect x="731" y="818" width="5" height="16" fill="#df5452"/>
<rect x="739" y="822" width="5" height="12" fill="#2fb66c"/>
<rect x="747" y="808" width="5" height="26" fill="#df5452"/>
<rect x="755" y="812" width="5" height="22" fill="#df5452"/>
<rect x="763" y="815" width="5" height="19" fill="#2fb66c"/>
<rect x="771" y="810" width="5" height="24" fill="#2fb66c"/>
<rect x="779" y="823" width="5" height="11" fill="#2fb66c"/>
<rect x="787" y="818" width="5" height="16" fill="#2fb66c"/>
<rect x="795" y="798" width="5" height="36" fill="#2fb66c"/>
<rect x="803" y="814" width="5" height="20" fill="#df5452"/>
<rect x="811" y="817" width="5" height="17" fill="#2fb66c"/>
<rect x="819" y="812" width="5" height="22" fill="#df5452"/>
<rect x="827" y="821" width="5" height="13" fill="#2fb66c"/>
<rect x="835" y="826" width="5" height="8" fill="#2fb66c"/>
<rect x="843" y="799" width="5" height="35" fill="#df5452"/>
<rect x="851" y="821" width="5" height="13" fill="#2fb66c"/>
<rect x="859" y="818" width="5" height="16" fill="#2fb66c"/>
<rect x="867" y="809" width="5" height="25" fill="#2fb66c"/>
<rect x="875" y="813" width="5" height="21" fill="#2fb66c"/>
<rect x="883" y="818" width="5" height="16" fill="#df5452"/>
<rect x="891" y="817" width="5" height="17" fill="#2fb66c"/>
<rect x="899" y="819" width="5" height="15" fill="#df5452"/>
<rect x="907" y="808" width="5" height="26" fill="#2fb66c"/>
<rect x="915" y="812" width="5" height="22" fill="#2fb66c"/>
<rect x="923" y="818" width="5" height="16" fill="#2fb66c"/>
<rect x="931" y="821" width="5" height="13" fill="#2fb66c"/>
<rect x="939" y="819" width="5" height="15" fill="#df5452"/>
<rect x="947" y="820" width="5" height="14" fill="#df5452"/>
<rect x="955" y="818" width="5" height="16" fill="#df5452"/>
<rect x="963" y="804" width="5" height="30" fill="#2fb66c"/>
<rect x="971" y="814" width="5" height="20" fill="#2fb66c"/>
<rect x="979" y="824" width="5" height="10" fill="#2fb66c"/>
<rect x="987" y="822" width="5" height="12" fill="#df5452"/>
<rect x="995" y="825" width="5" height="9" fill="#2fb66c"/>
<rect x="1003" y="786" width="5" height="48" fill="#2fb66c"/>
<rect x="1011" y="815" width="5" height="19" fill="#df5452"/>
<rect x="1019" y="818" width="5" height="16" fill="#2fb66c"/>
<rect x="1027" y="821" width="5" height="13" fill="#2fb66c"/>
<rect x="1035" y="823" width="5" height="11" fill="#2fb66c"/>
<rect x="1043" y="823" width="5" height="11" fill="#df5452"/>
<rect x="1051" y="817" width="5" height="17" fill="#df5452"/>
<rect x="1059" y="824" width="5" height="10" fill="#df5452"/>
<rect x="1067" y="826" width="5" height="8" fill="#2fb66c"/>
<rect x="1075" y="824" width="5" height="10" fill="#df5452"/>
<rect x="1083" y="823" width="5" height="11" fill="#2fb66c"/>
<rect x="1091" y="799" width="5" height="35" fill="#df5452"/>
<rect x="1099" y="772" width="5" height="62" fill="#df5452"/>
<rect x="1107" y="800" width="5" height="34" fill="#2fb66c"/>
<rect x="1115" y="814" width="5" height="20" fill="#2fb66c"/>
<rect x="1123" y="823" width="5" height="11" fill="#df5452"/>
<rect x="1131" y="795" width="5" height="39" fill="#df5452"/>
<rect x="1139" y="810" width="5" height="24" fill="#2fb66c"/>
<rect x="1147" y="812" width="5" height="22" fill="#2fb66c"/>
<rect x="1155" y="816" width="5" height="18" fill="#2fb66c"/>
<rect x="1163" y="823" width="5" height="11" fill="#df5452"/>
<rect x="1171" y="824" width="5" height="10" fill="#2fb66c"/>
<rect x="1179" y="820" width="5" height="14" fill="#df5452"/>
<rect x="1187" y="822" width="5" height="12" fill="#2fb66c"/>
<rect x="1195" y="818" width="5" height="16" fill="#df5452"/>
<rect x="1203" y="813" width="5" height="21" fill="#2fb66c"/>
<rect x="1211" y="808" width="5" height="26" fill="#2fb66c"/>
<rect x="1219" y="815" width="5" height="19" fill="#2fb66c"/>
<rect x="1227" y="814" width="5" height="20" fill="#df5452"/>
<rect x="1235" y="826" width="5" height="8" fill="#2fb66c"/>
</g>
<g clip-path="url(#cv)" fill="none" stroke-width="1.1" stroke-linejoin="round">
<polyline stroke="#c257b4" points="0.0,819.0 5.5,819.1 13.5,819.3 21.5,819.5 29.5,819.6 37.5,819.8 45.5,820.1 53.5,820.5 61.5,820.8 69.5,820.1 77.5,819.5 85.5,818.2 93.5,816.2 101.5,810.3 109.5,810.8 117.5,810.6 125.5,808.0 133.5,804.1 141.5,798.8 149.5,795.9 157.5,794.9 165.5,795.0 173.5,794.0 181.5,793.8 189.5,793.5 197.5,792.3 205.5,792.6 213.5,792.4 221.5,792.1 229.5,791.7 237.5,791.8 245.5,791.3 253.5,792.1 261.5,796.5 269.5,796.0 277.5,794.3 285.5,794.7 293.5,796.3 301.5,801.9 309.5,804.7 317.5,805.6 325.5,806.2 333.5,807.4 341.5,808.0 349.5,808.6 357.5,809.4 365.5,808.7 373.5,807.4 381.5,807.3 389.5,806.5 397.5,806.6 405.5,807.3 413.5,807.3 421.5,808.4 429.5,808.8 437.5,809.6 445.5,809.8 453.5,810.5 461.5,810.4 469.5,810.7 477.5,811.0 485.5,810.7 493.5,810.2 501.5,810.5 509.5,810.4 517.5,810.5 525.5,809.7 533.5,809.7 541.5,809.6 549.5,810.7 557.5,810.3 565.5,809.9 573.5,809.6 581.5,809.1 589.5,809.6 597.5,810.8 605.5,810.7 613.5,811.0 621.5,811.6 629.5,811.3 637.5,811.0 645.5,811.6 653.5,812.2 661.5,812.3 669.5,812.3 677.5,812.6 685.5,814.0 693.5,815.6 701.5,815.7 709.5,815.7 717.5,815.9 725.5,816.3 733.5,817.1 741.5,817.7 749.5,817.7 757.5,817.2 765.5,817.8 773.5,817.3 781.5,817.4 789.5,817.9 797.5,817.2 805.5,816.6 813.5,816.4 821.5,815.9 829.5,815.8 837.5,816.1 845.5,814.9 853.5,814.7 861.5,814.8 869.5,814.1 877.5,814.5 885.5,814.6 893.5,814.5 901.5,814.4 909.5,814.4 917.5,814.3 925.5,814.5 933.5,815.0 941.5,814.8 949.5,814.9 957.5,815.9 965.5,815.4 973.5,815.2 981.5,815.8 989.5,815.9 997.5,815.8 1005.5,815.2 1013.5,814.9 1021.5,814.9 1029.5,815.5 1037.5,816.0 1045.5,816.3 1053.5,816.3 1061.5,816.5 1069.5,817.4 1077.5,818.0 1085.5,818.3 1093.5,817.2 1101.5,814.8 1109.5,813.9 1117.5,813.7 1125.5,814.6 1133.5,813.7 1141.5,813.0 1149.5,812.5 1157.5,812.1 1165.5,813.9 1173.5,814.3 1181.5,814.5 1189.5,814.5 1197.5,814.3 1205.5,813.7 1213.5,813.3 1221.5,812.8 1229.5,812.2 1237.5,812.3"/>
<polyline stroke="#e9d36a" points="0.0,817.8 5.5,817.6 13.5,817.4 21.5,817.1 29.5,817.3 37.5,817.8 45.5,818.3 53.5,818.5 61.5,818.5 69.5,818.5 77.5,816.1 85.5,816.4 93.5,814.4 101.5,804.9 109.5,803.1 117.5,802.3 125.5,800.0 133.5,794.5 141.5,782.1 149.5,774.8 157.5,773.7 165.5,773.6 173.5,773.7 181.5,782.8 189.5,783.9 197.5,782.2 205.5,785.1 213.5,790.3 221.5,802.2 229.5,808.6 237.5,809.9 245.5,809.1 253.5,810.6 261.5,810.2 269.5,808.0 277.5,806.4 285.5,804.2 293.5,802.3 301.5,801.7 309.5,800.8 317.5,801.4 325.5,803.3 333.5,804.2 341.5,805.8 349.5,809.1 357.5,812.3 365.5,813.2 373.5,812.4 381.5,812.9 389.5,812.2 397.5,811.8 405.5,811.4 413.5,810.5 421.5,811.0 429.5,808.5 437.5,806.9 445.5,806.4 453.5,808.6 461.5,808.0 469.5,809.3 477.5,810.3 485.5,810.1 493.5,809.9 501.5,810.0 509.5,812.4 517.5,814.1 525.5,813.1 533.5,810.7 541.5,811.2 549.5,812.2 557.5,810.3 565.5,809.8 573.5,809.4 581.5,808.3 589.5,806.7 597.5,807.5 605.5,808.4 613.5,811.3 621.5,812.0 629.5,810.5 637.5,811.6 645.5,813.3 653.5,815.1 661.5,816.4 669.5,817.9 677.5,817.7 685.5,819.7 693.5,820.0 701.5,819.5 709.5,820.9 717.5,820.2 725.5,819.4 733.5,819.0 741.5,819.0 749.5,817.6 757.5,816.8 765.5,816.0 773.5,814.6 781.5,815.3 789.5,814.8 797.5,814.1 805.5,813.9 813.5,813.7 821.5,812.7 829.5,814.0 837.5,815.3 845.5,813.8 853.5,814.8 861.5,814.3 869.5,813.4 877.5,814.9 885.5,815.3 893.5,815.3 901.5,816.0 909.5,814.7 917.5,813.3 925.5,815.2 933.5,815.2 941.5,815.3 949.5,816.4 957.5,816.9 965.5,815.5 973.5,815.1 981.5,815.6 989.5,817.0 997.5,818.3 1005.5,815.1 1013.5,814.6 1021.5,814.5 1029.5,814.6 1037.5,815.1 1045.5,817.0 1053.5,817.4 1061.5,817.4 1069.5,817.8 1077.5,817.7 1085.5,821.4 1093.5,819.8 1101.5,815.2 1109.5,813.1 1117.5,812.2 1125.5,812.2 1133.5,810.0 1141.5,808.6 1149.5,807.2 1157.5,806.4 1165.5,806.4 1173.5,808.9 1181.5,813.7 1189.5,815.9 1197.5,816.3 1205.5,815.3 1213.5,816.6 1221.5,817.1 1229.5,817.2 1237.5,818.2"/>
<polyline stroke="#e3e3e3" points="0.0,820.9 5.5,815.2 13.5,814.0 21.5,813.5 29.5,813.5 37.5,813.5 45.5,815.6 53.5,817.3 61.5,820.6 69.5,821.7 77.5,818.7 85.5,817.2 93.5,811.5 101.5,789.1 109.5,784.4 117.5,786.0 125.5,782.8 133.5,777.6 141.5,775.0 149.5,765.2 157.5,761.5 165.5,764.4 173.5,769.8 181.5,790.6 189.5,802.6 197.5,803.0 205.5,805.9 213.5,810.8 221.5,813.8 229.5,814.7 237.5,816.7 245.5,812.3 253.5,810.4 261.5,806.6 269.5,801.3 277.5,796.1 285.5,796.1 293.5,794.3 301.5,796.8 309.5,800.3 317.5,806.6 325.5,810.5 333.5,814.0 341.5,814.9 349.5,818.0 357.5,817.9 365.5,815.9 373.5,810.7 381.5,811.0 389.5,806.3 397.5,805.6 405.5,806.8 413.5,810.3 421.5,811.1 429.5,810.7 437.5,808.2 445.5,805.9 453.5,807.0 461.5,804.9 469.5,807.9 477.5,812.3 485.5,814.2 493.5,812.7 501.5,815.0 509.5,816.9 517.5,816.0 525.5,812.1 533.5,808.8 541.5,807.4 549.5,807.4 557.5,804.6 565.5,807.6 573.5,810.0 581.5,809.1 589.5,806.0 597.5,810.4 605.5,809.1 613.5,812.6 621.5,814.8 629.5,815.0 637.5,812.9 645.5,817.4 653.5,817.6 661.5,817.9 669.5,820.8 677.5,822.4 685.5,821.9 693.5,822.4 701.5,821.0 709.5,821.0 717.5,818.0 725.5,816.9 733.5,815.6 741.5,817.0 749.5,814.1 757.5,815.5 765.5,815.2 773.5,813.6 781.5,813.7 789.5,815.6 797.5,812.8 805.5,812.6 813.5,813.9 821.5,811.8 829.5,812.4 837.5,817.9 845.5,814.9 853.5,815.8 861.5,816.9 869.5,814.5 877.5,811.9 885.5,815.6 893.5,814.9 901.5,815.1 909.5,815.0 917.5,814.7 925.5,814.7 933.5,815.5 941.5,815.5 949.5,817.7 957.5,819.0 965.5,816.2 973.5,814.8 981.5,815.8 989.5,816.3 997.5,817.7 1005.5,814.1 1013.5,814.4 1021.5,813.2 1029.5,812.9 1037.5,812.5 1045.5,820.0 1053.5,820.4 1061.5,821.6 1069.5,822.7 1077.5,823.0 1085.5,822.9 1093.5,819.2 1101.5,808.7 1109.5,803.5 1117.5,801.5 1125.5,801.5 1133.5,800.8 1141.5,808.4 1149.5,810.9 1157.5,811.3 1165.5,811.3 1173.5,817.0 1181.5,819.0 1189.5,820.9 1197.5,821.3 1205.5,819.3 1213.5,816.1 1221.5,815.1 1229.5,813.5 1237.5,815.1"/>
</g>
</svg>
<div id="tb"><div class="topline"></div><svg width="540" height="33" viewBox="0 0 540 33" style="position:absolute;left:0;top:0" fill="none" stroke="#c6c8cc" stroke-width="1.2" stroke-linecap="round" stroke-linejoin="round">
<rect x="11" y="6" width="22" height="22" fill="#2a2c31" stroke="none"/>
<path d="M22.5 9.5V15.5M22.5 19.5V25.5M14.5 17.5H20.5M24.500 17.5H30.5" stroke="#3f7ec4" stroke-width="1" stroke-linecap="butt"/>
<g fill="#85878b" stroke="none">
<path d="M34.8 17h5.6l-2.8 3.6z"/><path d="M71.5 17h5.6l-2.8 3.6z"/><path d="M106.9 17h5.6l-2.8 3.6z"/><path d="M143.4 17h5.6l-2.8 3.6z"/><path d="M178.8 17h5.6l-2.8 3.6z"/><path d="M215.5 17h5.6l-2.8 3.6z"/><path d="M251.3 17h5.6l-2.8 3.6z"/>
</g>
<path d="M52.2 22.8L64 11M56 17l2.4 2.4M58.6 14.6l2.4 2.4"/>
<path d="M87.5 20.4L96.7 10.7M89.8 23.6L100.5 13.3M90.6 14.6l3 3M94 17.2l3 3"/>
<rect x="124.6" y="12.6" width="11.4" height="9.2"/>
<path d="M160.4 13.4H172M160.4 17.4H172M160.4 21.4H172M166.2 12.4v2M166.2 20.4v2"/>
<path d="M194 22L202 11.6M194.4 12.6l1.6-1.4v5M199.6 22L204 15l2 6"/>
<circle cx="206.2" cy="20.4" r="1.5" stroke-width="1"/><circle cx="209.2" cy="20.4" r="1.5" stroke-width="1"/>
<rect x="232.8" y="12" width="11" height="10.6"/>
<path d="M238.3 14.4v5.8M235.4 17.3h5.8"/>
<circle cx="243.8" cy="11.6" r="1.1" fill="#c6c8cc" stroke="none"/><circle cx="232.4" cy="22.8" r="1.1" fill="#c6c8cc" stroke="none"/>
<g transform="translate(300.4 16.8) rotate(-42)"><rect x="-7" y="-2.8" width="14" height="5.6" rx="1"/><path d="M-3.5 -2.8v2.4M0 -2.8v2.4M3.5 -2.8v2.4" stroke-width="1"/></g>
<rect x="293.8" y="9.4" width="4.8" height="2.2" rx="0.6" stroke-width="1"/><circle cx="294.6" cy="14.4" r="1" stroke-width="1"/><rect x="301.6" y="21.4" width="5" height="2.2" rx="0.6" stroke-width="1"/>
<g transform="translate(326.2 16.9) rotate(-42)"><rect x="-7" y="-2.8" width="14" height="5.6" rx="1.4"/><path d="M-3.5 -2.8v2.4M0 -2.8v2.4M3.5 -2.8v2.4" stroke-width="1"/></g>
<path d="M321.4 13.2a6 6 0 0 0 1.6 8.6M331 20.6a6 6 0 0 0 -1.6 -8.6" stroke-width="1" stroke="#9a9ca0"/>
<g transform="translate(352 16.9) rotate(-42)"><rect x="-7.6" y="-3" width="15.2" height="6"/><path d="M-4 -3v2.6M0 -3v2.6M4 -3v2.6" stroke-width="1"/></g>
<path d="M374.4 22.6v-3.4l7.8-7.8 3.2 3.2-7.8 7.8zM380 13.4l3.2 3.2M380 22.4c2-3 3-3 4-1.2s2 1 3-.4 1.800-1 3-1.200"/>
<g stroke-width="1"><path d="M402.600 11.200v11.400M408 11.200v11.400M413.400 11.200v11.400"/><rect x="401.200" y="13.600" width="2.800" height="6.400" rx="1"/><rect x="406.600" y="13.600" width="2.800" height="6.400" rx="1"/><rect x="412" y="13.600" width="2.800" height="6.400" rx="1"/></g>
<rect x="429.600" y="14.400" width="9.200" height="8.200"/><path d="M432.600 14.200v-2.800h4.600M434.200 17.800v1.600" />
<path d="M454.400 21v-10.400h8M456.800 12.600h7.600v10.800l-3.800-2.600-3.800 2.600z"/>
<path d="M484 23.400h-5.600v-11.800h15.200v5.800M482.200 10.400v2.400M489.600 10.400v2.400M481.600 15.600h4.400M481.600 19.600h2.600"/>
<path d="M486.600 23.400l4.200-4.600 2.600 2.600-2 2z" fill="#c6c8cc" stroke-width="0.800"/>
<path d="M505.600 13.400h13.200M509 13.200v-2.200h6.400v2.200M507.400 13.600v9h9.600v-9M510.800 16.800v3.400M513.600 16.800v3.400"/>
</svg>
<div style="position:absolute;left:266px;top:8.5px;font-size:13.5px;line-height:17px;color:#c6c8cc">Aa</div>
</div>
<span class="t" style="left:5px;top:36.7px;color:#d0d2d5;letter-spacing:-0.15px">时间:2021-03-18 12:00</span><span class="t" style="left:131.5px;top:36.7px;color:#d0d2d5;">开:</span><span class="t" style="left:146.6px;top:36.7px;color:#3f9a62;">58719.23</span><span class="t" style="left:202.8px;top:36.7px;color:#d0d2d5;">高:</span><span class="t" style="left:218.3px;top:36.7px;color:#3f9a62;">59200.00</span><span class="t" style="left:274px;top:36.7px;color:#d0d2d5;">低:</span><span class="t" style="left:289px;top:36.7px;color:#3f9a62;">58625.44</span><span class="t" style="left:345.2px;top:36.7px;color:#d0d2d5;">收:</span><span class="t" style="left:359.8px;top:36.7px;color:#3f9a62;">58812.16</span><span class="t" style="left:416.5px;top:36.7px;color:#d0d2d5;">涨幅:</span><span class="t" style="left:442.4px;top:36.7px;color:#3f9a62;">0.16%(92.93)</span><span class="t" style="left:519.3px;top:36.7px;color:#d0d2d5;">振幅:</span><span class="t" style="left:546.2px;top:36.7px;color:#3f9a62;">0.98%</span><span class="t" style="left:33.4px;top:54.6px;color:#c6c8cb;font-weight:bold;letter-spacing:-0.4px">MA</span><span class="t" style="left:117.5px;top:54.6px;color:#cfcfcf;font-weight:bold;letter-spacing:-0.1px">MA(5):57843.35</span><span class="t" style="left:210.4px;top:54.6px;color:#6fc6c6;">MA(10):56801.37</span><span class="t" style="left:310px;top:54.6px;color:#b04fa4;">MA(20):56577.08</span><span class="t" style="left:409px;top:54.6px;color:#3c6a35;">MA(30):57791.29</span><span class="t" style="left:508.4px;top:54.6px;color:#cfe6a0;font-weight:bold;letter-spacing:-0.1px">MA(60):56477.44</span><span class="t" style="left:33.4px;top:680.6px;color:#c6c8cb;font-weight:bold;letter-spacing:-0.9px">VOLUME</span><span class="t" style="left:124.8px;top:680.6px;color:#cfcfcf;font-weight:bold;letter-spacing:-0.45px">VOLUME:1,949.1611</span><span class="t" style="left:239.6px;top:680.6px;color:#55585e;">预估成交量:2,562.8123</span><span class="t" style="left:367px;top:680.6px;color:#cfcfcf;font-weight:bold;letter-spacing:-0.1px">MA(5):4,598.7930</span><span class="t" style="left:469.8px;top:680.6px;color:#e6d763;font-weight:bold;letter-spacing:-0.1px">MA(10):3,912.8888</span><span class="t" style="left:577.7px;top:680.6px;color:#b04fa4;">MA(20):5,218.4025</span>
<svg width="130" height="834" viewBox="0 0 130 834" style="position:absolute;left:0;top:0" fill="none" stroke-linecap="round" stroke-linejoin="round">
<path d="M15.400 59.800l3.400 3.600 3.400-3.600" stroke="#6a6c70" stroke-width="1.100"/>
<path d="M60.600 62c2-3 3.800-4.200 5.800-4.200s3.800 1.200 5.800 4.200c-2 3-3.800 4.200-5.800 4.200s-3.800-1.200-5.800-4.200z" stroke="#4c4e52" stroke-width="1"/><circle cx="66.400" cy="62" r="1.800" stroke="#4c4e52" stroke-width="1"/>
<path d="M85.400 56.800l4.700 2.600v5.200l-4.700 2.600-4.700-2.600v-5.200z" stroke="#4c4e52" stroke-width="1"/><circle cx="85.400" cy="62" r="1.700" stroke="#4c4e52" stroke-width="1"/>
<path d="M100.600 58l7.600 7.600M108.200 58l-7.600 7.600" stroke="#45474b" stroke-width="1"/>
<path d="M15.400 685.800l3.400 3.600 3.400-3.600" stroke="#6a6c70" stroke-width="1.100"/>
<path d="M92 682.400l4.900 2.700v5.400l-4.900 2.700-4.900-2.700v-5.400z" stroke="#4c4e52" stroke-width="1"/><circle cx="92" cy="687.800" r="1.700" stroke="#4c4e52" stroke-width="1"/>
<path d="M106.600 683.600l8.600 8.600M115.200 683.600l-8.600 8.600" stroke="#45474b" stroke-width="1"/>
</svg>
<svg width="130" height="834" viewBox="0 0 130 834" style="position:absolute;left:0;top:0" fill="none" stroke-linecap="round" stroke-linejoin="round">
<path d="M15.400 59.800l3.400 3.600 3.400-3.600" stroke="#6a6c70" stroke-width="1.100"/>
<path d="M60.600 62c2-3 3.800-4.200 5.800-4.200s3.800 1.200 5.800 4.200c-2 3-3.800 4.200-5.800 4.200s-3.800-1.200-5.800-4.200z" stroke="#4c4e52" stroke-width="1"/><circle cx="66.400" cy="62" r="1.800" stroke="#4c4e52" stroke-width="1"/>
<path d="M85.400 56.800l4.700 2.600v5.200l-4.700 2.600-4.700-2.600v-5.200z" stroke="#4c4e52" stroke-width="1"/><circle cx="85.400" cy="62" r="1.700" stroke="#4c4e52" stroke-width="1"/>
<path d="M100.600 58l7.600 7.600M108.200 58l-7.600 7.600" stroke="#45474b" stroke-width="1"/>
<path d="M15.400 685.800l3.400 3.600 3.400-3.600" stroke="#6a6c70" stroke-width="1.100"/>
<path d="M92 682.400l4.900 2.700v5.400l-4.900 2.700-4.900-2.700v-5.400z" stroke="#4c4e52" stroke-width="1"/><circle cx="92" cy="687.800" r="1.700" stroke="#4c4e52" stroke-width="1"/>
<path d="M106.600 683.600l8.600 8.600M115.200 683.600l-8.600 8.600" stroke="#45474b" stroke-width="1"/>
</svg>
<div class="mono" style="left:1384px;top:132px;color:#9c2f33">58988.01</div>
<div class="mono" style="left:1304px;top:258px;color:#6ea3e0">54877.30</div>
<div class="mono" style="left:1367px;top:382px;color:#6fae45">50867.51</div>
<div class="t" style="left:983.3px;top:58.2px;font-size:11px;color:#cfcfcf;font-weight:bold">61800</div>
<div class="t arr" style="left:1017.5px;top:59.2px;">→</div>
<div class="t" style="left:412.4px;top:637.3px;font-size:11px;color:#cfcfcf;font-weight:bold">43000</div>
<div class="t arr" style="left:401px;top:637.8px;">←</div>
<div class="ax" style="top:638.0px">43000.00</div><div class="ax" style="top:607.2px">44000.00</div><div class="ax" style="top:576.4px">45000.00</div><div class="ax" style="top:545.6px">46000.00</div><div class="ax" style="top:514.8px">47000.00</div><div class="ax" style="top:484.0px">48000.00</div><div class="ax" style="top:453.3px">49000.00</div><div class="ax" style="top:422.5px">50000.00</div><div class="ax" style="top:391.7px">51000.00</div><div class="ax" style="top:360.9px">52000.00</div><div class="ax" style="top:330.1px">53000.00</div><div class="ax" style="top:299.3px">54000.00</div><div class="ax" style="top:268.5px">55000.00</div><div class="ax" style="top:237.7px">56000.00</div><div class="ax" style="top:206.9px">57000.00</div><div class="ax" style="top:176.2px">58000.00</div><div class="ax" style="top:145.4px">59000.00</div><div class="ax" style="top:114.6px">60000.00</div><div class="ax" style="top:83.8px">61000.00</div><div class="ax" style="top:53.0px">62000.00</div><div class="ax" style="top:694.0px">30.00k</div><div class="ax" style="top:739.2px">20.00k</div><div class="ax" style="top:784.0px">10.00k</div>
<div style="position:absolute;left:1529px;top:148px;width:65px;height:20px;background:rgba(76,170,124,0.92);"></div>
<div style="position:absolute;left:1529px;top:169px;width:65px;height:20px;background:rgba(76,170,124,0.92);"></div>
<div class="ax" style="top:151px;color:#fff;font-weight:bold;">58812.16</div>
<div class="ax" style="top:172px;color:#fff;font-weight:bold;">57:26</div>
<div style="position:absolute;left:1529px;top:817px;width:63px;height:17px;background:#d8952c;"></div>
<div class="mono" style="left:1529px;width:63px;text-align:center;top:820.5px;color:#fff;font-weight:bold;font-size:10px">1.9k</div>
<div style="position:absolute;left:1529px;top:826px;width:5px;height:1px;background:#f0e6d0;"></div>
<div style="position:absolute;left:1529px;top:158px;width:5px;height:1px;background:#e6f5ec;"></div>
<div style="position:absolute;left:1592px;top:408px;width:2px;height:37px;background:#3a3c41;"></div>
</body></html>
